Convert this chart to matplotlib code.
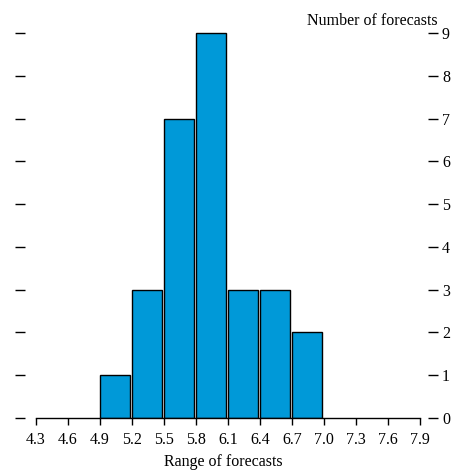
import matplotlib
matplotlib.use('Agg')
from matplotlib import pyplot as plt

# Данные гистограммы
bin_edges = [4.9, 5.2, 5.5, 5.8, 6.1, 6.4, 6.7]
counts = [1, 3, 7, 9, 3, 3, 2]
x_ticks = [4.3, 4.6, 4.9, 5.2, 5.5, 5.8, 6.1, 6.4, 6.7, 7.0, 7.3, 7.6, 7.9]
y_ticks = list(range(0, 10))

plt.rcParams['font.family'] = ['Liberation Serif', 'DejaVu Serif']
fs = 11.5

fig = plt.figure(figsize=(4.55, 4.70), dpi=100)
ax = fig.add_axes([25 / 455, 52 / 470, 403 / 455, 400 / 470])

ax.bar(bin_edges, counts, width=0.28, align='edge', color='#0099D8',
       edgecolor='black', linewidth=1.0)

ax.set_xlim(4.3 - 11 / 106.7, 7.9 + 8 / 106.7)
ax.set_ylim(0, 9 + 15 / 42.8)

for side in ['left', 'right', 'top']:
    ax.spines[side].set_visible(False)
ax.spines['bottom'].set_bounds(4.3, 7.9)
ax.spines['bottom'].set_linewidth(1.0)

ax.set_xticks(x_ticks)
ax.set_xticklabels(['%.1f' % t for t in x_ticks])
ax.tick_params(axis='x', direction='out', length=5, width=1, labelsize=fs, pad=5)

ax.set_yticks(y_ticks)
ax.tick_params(axis='y', which='both', left=True, right=True,
               labelleft=False, labelright=True, direction='out',
               length=7, width=1, labelsize=fs, pad=3)

fig.text(223 / 455, 1 - 466 / 470, 'Range of forecasts', ha='center',
         va='baseline', fontsize=fs)
fig.text(438 / 455, 1 - 25 / 470, 'Number of forecasts', ha='right',
         va='baseline', fontsize=fs)

fig.savefig('out.png', dpi=100)
